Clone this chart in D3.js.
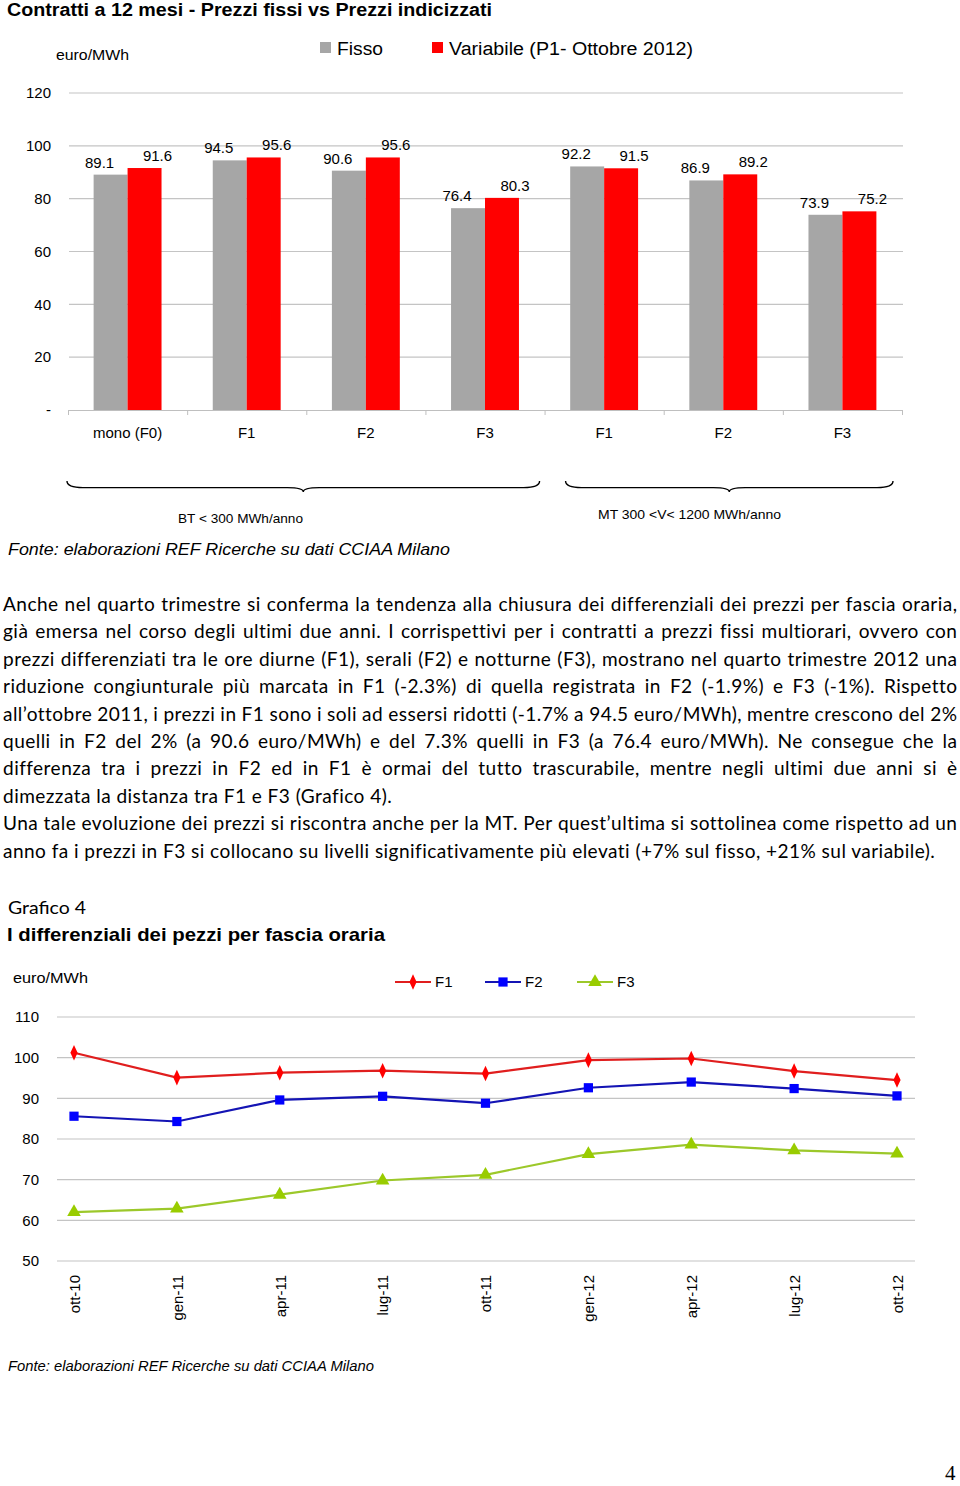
<!DOCTYPE html>
<html><head><meta charset="utf-8">
<script src="https://cdn.jsdelivr.net/npm/d3@7"></script>
<style>body{margin:0;background:#fff} svg{display:block}</style>
</head><body>
<script>
// ---------- DATA ----------
const barCategories = ["mono (F0)","F1","F2","F3","F1","F2","F3"];
const barSeries = ["Fisso","Variabile (P1- Ottobre 2012)"];
const fissoValues = [89.1,94.5,90.6,76.4,92.2,86.9,73.9];
const variabileValues = [91.6,95.6,95.6,80.3,91.5,89.2,75.2];
const barTicks = [0,20,40,60,80,100,120];
const barTickLabels = ["-","20","40","60","80","100","120"];
const groupLabels = ["BT < 300 MWh/anno","MT 300 <V< 1200  MWh/anno"];

const months = ["ott-10","gen-11","apr-11","lug-11","ott-11","gen-12","apr-12","lug-12","ott-12"];
const lineSeries = ["F1","F2","F3"];
const f1Values = [101.2,95.1,96.3,96.8,96.1,99.4,99.8,96.7,94.5];
const f2Values = [85.6,84.3,89.6,90.5,88.8,92.6,94.0,92.4,90.6];
const f3Values = [62.0,62.9,66.3,69.8,71.2,76.3,78.6,77.2,76.4];
const lineTicks = [50,60,70,80,90,100,110];

const paragraphLines = [
  "Anche nel quarto trimestre si conferma la tendenza alla chiusura dei differenziali dei prezzi per fascia oraria,",
  "già emersa nel corso degli ultimi due anni. I corrispettivi per i contratti a prezzi fissi multiorari, ovvero con",
  "prezzi differenziati tra le ore diurne (F1), serali (F2) e notturne (F3), mostrano nel quarto trimestre 2012 una",
  "riduzione congiunturale più marcata in F1 (-2.3%) di quella registrata in F2 (-1.9%) e F3 (-1%). Rispetto",
  "all’ottobre 2011, i prezzi in F1 sono i soli ad essersi ridotti (-1.7% a 94.5 euro/MWh), mentre crescono del 2%",
  "quelli in F2 del 2% (a 90.6 euro/MWh) e del 7.3% quelli in F3 (a 76.4 euro/MWh). Ne consegue che la",
  "differenza tra i prezzi in F2 ed in F1 è ormai del tutto trascurabile, mentre negli ultimi due anni si è",
  "dimezzata la distanza tra F1 e F3 (Grafico 4).",
  "Una tale evoluzione dei prezzi si riscontra anche per la MT. Per quest’ultima si sottolinea come rispetto ad un",
  "anno fa i prezzi in F3 si collocano su livelli significativamente più elevati (+7% sul fisso, +21% sul variabile)."
];
const justifiedFlags = [1,1,1,1,1,1,1,0,1,0];

// ---------- SETUP ----------
const W = 960, H = 1486;
const svg = d3.select("body").append("svg").attr("width", W).attr("height", H)
  .style("font-family", "'Liberation Sans', Arial, sans-serif");
const GRID = "#c4c4c4";

function fit(sel, len) {
  sel.attr("textLength", len).attr("lengthAdjust", "spacingAndGlyphs");
  return sel;
}

// ---------- BAR CHART ----------
svg.append("text").attr("x", 7).attr("y", 16).attr("font-size", 17.5).attr("font-weight", "bold")
  .text("Contratti a 12 mesi - Prezzi fissi vs Prezzi indicizzati").call(fit, 485);

svg.append("text").attr("x", 56).attr("y", 60).attr("font-size", 15).text("euro/MWh").call(fit, 73);

// legend
const barColors = ["#a6a6a6", "#ff0000"];
const legX = [320, 432], legW = [46, 244];
barSeries.forEach((s, i) => {
  svg.append("rect").attr("x", legX[i]).attr("y", 42).attr("width", 11).attr("height", 11).attr("fill", barColors[i]);
  svg.append("text").attr("x", legX[i] + 17).attr("y", 55).attr("font-size", 18).text(s).call(fit, legW[i]);
});

const yB = d3.scaleLinear().domain([0, 120]).range([410, 93]);
const xB = d3.scaleBand().domain(d3.range(barCategories.length)).range([68, 902])
  .paddingInner(0.43).paddingOuter(0.215);
const xSub = d3.scaleBand().domain([0, 1]).range([0, xB.bandwidth()]);

// grid
svg.append("g").selectAll("line").data(barTicks.filter(t => t > 0)).join("line")
  .attr("x1", 69).attr("x2", 903).attr("y1", d => yB(d)).attr("y2", d => yB(d))
  .attr("stroke", GRID).attr("stroke-width", 1.2);

// y axis labels
const yAxB = svg.append("g").attr("transform", "translate(56,0)")
  .call(d3.axisLeft(yB).tickValues(barTicks).tickFormat((d, i) => barTickLabels[i]).tickSize(0).tickPadding(5));
yAxB.select(".domain").remove();
yAxB.selectAll("text").attr("font-size", 15).attr("font-family", "'Liberation Sans', Arial, sans-serif").attr("fill", "#000");

// bars
const barData = barCategories.map((c, i) => ({ i, vals: [fissoValues[i], variabileValues[i]] }));
const gB = svg.append("g");
barData.forEach(d => {
  d.vals.forEach((v, s) => {
    const x0 = xB(d.i) + xSub(s);
    gB.append("rect").attr("x", x0).attr("y", yB(v)).attr("width", xSub.bandwidth())
      .attr("height", yB(0) - yB(v)).attr("fill", barColors[s]);
    const cx = x0 + xSub.bandwidth() / 2 + (s === 0 ? -11 : 13);
    gB.append("text").attr("x", cx).attr("y", yB(v) - 7).attr("text-anchor", "middle")
      .attr("font-size", 15).text(v.toFixed(1));
  });
});

// x axis
const step = xB.step();
const xAxG = svg.append("g");
xAxG.append("line").attr("x1", 68).attr("x2", 902).attr("y1", 410.5).attr("y2", 410.5).attr("stroke", "#bfbfbf");
xAxG.selectAll("line.tk").data(d3.range(barCategories.length + 1)).join("line").attr("class", "tk")
  .attr("x1", d => 68.5 + d * step).attr("x2", d => 68.5 + d * step).attr("y1", 410).attr("y2", 415).attr("stroke", "#bfbfbf");
xAxG.selectAll("text").data(barCategories).join("text")
  .attr("x", (d, i) => xB(i) + xB.bandwidth() / 2).attr("y", 438).attr("text-anchor", "middle")
  .attr("font-size", 15).text(d => d);

// braces
function brace(x1, x2, y, h) {
  const m = (x1 + x2) / 2, hy = y + h * 0.6, r = 16;
  return `M${x1},${y} Q${x1},${hy} ${x1 + r},${hy} L${m - r},${hy} Q${m},${hy} ${m},${y + h}` +
         ` Q${m},${hy} ${m + r},${hy} L${x2 - r},${hy} Q${x2},${hy} ${x2},${y}`;
}
svg.append("path").attr("d", brace(67, 68 + 4 * step - 5, 481, 11)).attr("fill", "none").attr("stroke", "#000").attr("stroke-width", 1.4);
svg.append("path").attr("d", brace(68 + 4 * step + 21, 68 + 7 * step - 9, 481, 11)).attr("fill", "none").attr("stroke", "#000").attr("stroke-width", 1.4);
svg.append("text").attr("x", 178).attr("y", 523).attr("font-size", 13).text(groupLabels[0]).call(fit, 125);
svg.append("text").attr("x", 598).attr("y", 519).attr("font-size", 13).text(groupLabels[1]).call(fit, 183);

svg.append("text").attr("x", 8).attr("y", 555).attr("font-size", 17).attr("font-style", "italic")
  .text("Fonte: elaborazioni REF Ricerche su dati CCIAA Milano").call(fit, 442);

// ---------- PARAGRAPH ----------
const LS = 0.45;
const pg = svg.append("g").style("font-family", "Lato, 'Open Sans', sans-serif").attr("letter-spacing", LS);
let pfs = 16;
{
  const t = pg.append("text").attr("font-size", 16).text(paragraphLines[9]);
  const w = t.node().getComputedTextLength();
  t.remove();
  const n = paragraphLines[9].length;
  pfs = 16 * (933 - n * LS) / (w - n * LS);
}
paragraphLines.forEach((line, li) => {
  const y = 611 + li * 27.4;
  if (!justifiedFlags[li]) {
    pg.append("text").attr("x", 3).attr("y", y).attr("font-size", pfs).text(line);
    return;
  }
  const words = line.split(" ");
  const tg = pg.append("g");
  const nodes = words.map(wd => tg.append("text").attr("y", y).attr("font-size", pfs).text(wd));
  const widths = nodes.map(n => n.node().getComputedTextLength() - LS);
  const total = d3.sum(widths);
  const gap = (957 - 3 - total) / (words.length - 1);
  let x = 3;
  nodes.forEach((n, i) => { n.attr("x", x); x += widths[i] + gap; });
});

// ---------- LINE CHART ----------
svg.append("text").attr("x", 8).attr("y", 914).attr("font-size", 18).style("font-family", "Lato, sans-serif")
  .text("Grafico 4").call(fit, 78);
svg.append("text").attr("x", 7).attr("y", 941).attr("font-size", 19).attr("font-weight", "bold")
  .text("I differenziali dei pezzi per fascia oraria").call(fit, 378);
svg.append("text").attr("x", 13).attr("y", 983).attr("font-size", 15).text("euro/MWh").call(fit, 75);

const yL = d3.scaleLinear().domain([50, 110]).range([1261, 1017]);
const xL = d3.scalePoint().domain(months).range([74, 897]);

svg.append("g").selectAll("line").data(lineTicks).join("line")
  .attr("x1", 57).attr("x2", 915).attr("y1", d => yL(d)).attr("y2", d => yL(d))
  .attr("stroke", GRID).attr("stroke-width", 1.2);

const yAxL = svg.append("g").attr("transform", "translate(44,0)")
  .call(d3.axisLeft(yL).tickValues(lineTicks).tickFormat(d3.format("d")).tickSize(0).tickPadding(5));
yAxL.select(".domain").remove();
yAxL.selectAll("text").attr("font-size", 15).attr("font-family", "'Liberation Sans', Arial, sans-serif").attr("fill", "#000");

const xAxL = svg.append("g").attr("transform", "translate(0,1261)")
  .call(d3.axisBottom(xL).tickSize(0).tickPadding(0));
xAxL.select(".domain").remove();
xAxL.selectAll("text").attr("font-size", 15).attr("font-family", "'Liberation Sans', Arial, sans-serif").attr("fill", "#000")
  .attr("transform", "rotate(-90)").attr("text-anchor", "end").attr("x", -14).attr("y", 0).attr("dy", "0.35em");

const lineColors = ["#e01e1e", "#1414b4", "#9cc82a"];
const markColors = ["#ff0000", "#0000ff", "#99cc00"];
const symTypes = [d3.symbolDiamond, d3.symbolSquare, d3.symbolTriangle];
const symSizes = [70, 85, 80];
const seriesVals = [f1Values, f2Values, f3Values];
const lineGen = d3.line().x((d, i) => xL(months[i])).y(d => yL(d));
seriesVals.forEach((vals, s) => {
  svg.append("path").attr("d", lineGen(vals)).attr("fill", "none")
    .attr("stroke", lineColors[s]).attr("stroke-width", 2.2);
  svg.append("g").selectAll("path").data(vals).join("path")
    .attr("transform", (d, i) => `translate(${xL(months[i])},${yL(d)})` + (s === 0 ? " scale(0.8,1)" : ""))
    .attr("d", d3.symbol().type(symTypes[s]).size(symSizes[s])).attr("fill", markColors[s]);
});

// legend
const lLegX = [395, 485, 577];
lineSeries.forEach((s, i) => {
  const g = svg.append("g");
  g.append("line").attr("x1", lLegX[i]).attr("x2", lLegX[i] + 36).attr("y1", 982).attr("y2", 982)
    .attr("stroke", lineColors[i]).attr("stroke-width", 2.2);
  g.append("path").attr("transform", `translate(${lLegX[i] + 18},982)` + (i === 0 ? " scale(0.8,1)" : ""))
    .attr("d", d3.symbol().type(symTypes[i]).size(symSizes[i])).attr("fill", markColors[i]);
  g.append("text").attr("x", lLegX[i] + 40).attr("y", 987).attr("font-size", 15).text(s);
});

svg.append("text").attr("x", 8).attr("y", 1371).attr("font-size", 14).attr("font-style", "italic")
  .text("Fonte: elaborazioni REF Ricerche su dati CCIAA Milano").call(fit, 366);

svg.append("text").attr("x", 945).attr("y", 1480).attr("font-size", 21)
  .style("font-family", "'Liberation Serif', 'DejaVu Serif', serif").text("4");
</script>
</body></html>
